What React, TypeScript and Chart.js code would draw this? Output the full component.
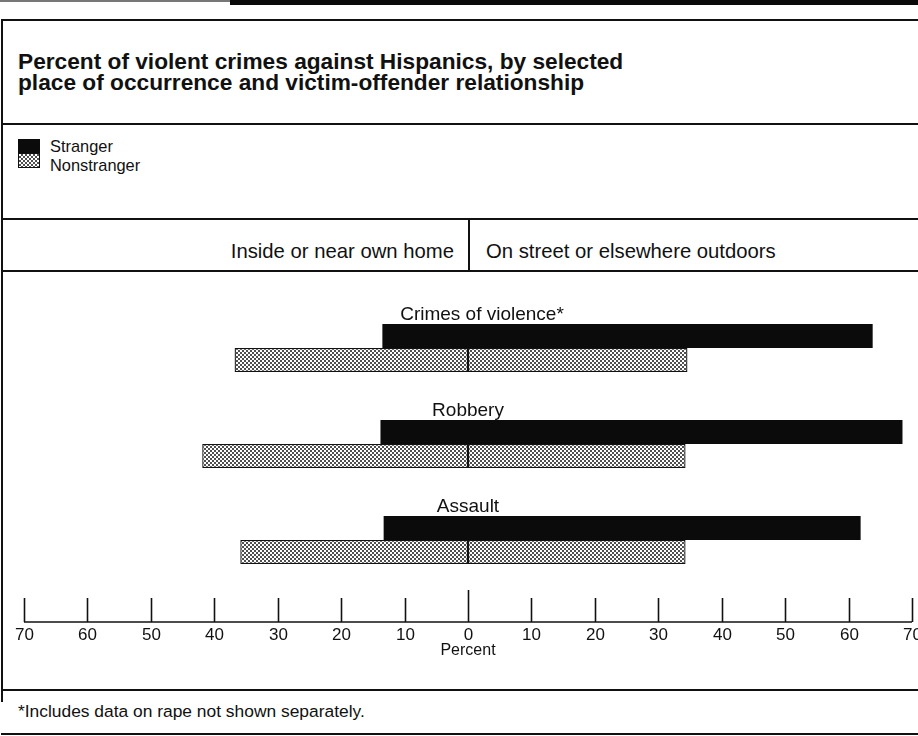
import React, { useEffect, useRef } from "react";
import { Chart, registerables } from "chart.js";

Chart.register(...registerables);

// ---- data ----
const categories = ["Crimes of violence*", "Robbery", "Assault"];
const strangerHome = [13.5, 13.8, 13.3];
const strangerOutdoors = [63.8, 68.5, 61.9];
const nonstrangerHome = [36.8, 41.9, 35.9];
const nonstrangerOutdoors = [34.6, 34.3, 34.3];
const tickValues = [-70, -60, -50, -40, -30, -20, -10, 0, 10, 20, 30, 40, 50, 60, 70];
const seriesNames = ["Stranger", "Nonstranger"];
const sectionLabels = ["Inside or near own home", "On street or elsewhere outdoors"];
const titleLines = [
  "Percent of violent crimes against Hispanics, by selected",
  "place of occurrence and victim-offender relationship",
];
const axisTitle = "Percent";
const footnote = "*Includes data on rape not shown separately.";

const FONT = '"Liberation Sans", Arial, Helvetica, sans-serif';
const INK = "#111";
const DOT = "#505050";

function makePattern(): CanvasPattern | string {
  const tile = document.createElement("canvas");
  tile.width = 4;
  tile.height = 4;
  const c = tile.getContext("2d");
  if (!c) return "#999";
  c.fillStyle = "#fff";
  c.fillRect(0, 0, 4, 4);
  c.fillStyle = DOT;
  c.fillRect(0, 0, 2, 2);
  c.fillRect(2, 2, 2, 2);
  const p = c.createPattern(tile, "repeat");
  return p || "#999";
}

const axisPlugin = {
  id: "customAxis",
  afterDraw(chart: any) {
    const { ctx, chartArea } = chart;
    const xs = chart.scales.x;
    const ys = chart.scales.y;
    ctx.save();
    // category labels above each group
    ctx.fillStyle = INK;
    ctx.font = `19px ${FONT}`;
    ctx.textAlign = "center";
    ctx.textBaseline = "alphabetic";
    const labelShift = [14, 0, 0];
    categories.forEach((c, i) => {
      const y = ys.getPixelForValue(i) - 28;
      ctx.fillText(c, xs.getPixelForValue(0) + labelShift[i], y);
    });
    // baseline and ticks
    const base = chartArea.bottom + 34;
    ctx.strokeStyle = INK;
    ctx.lineWidth = 1.6;
    ctx.beginPath();
    ctx.moveTo(xs.getPixelForValue(tickValues[0]), base);
    ctx.lineTo(xs.getPixelForValue(tickValues[tickValues.length - 1]), base);
    ctx.stroke();
    ctx.font = `17px ${FONT}`;
    ctx.textBaseline = "middle";
    tickValues.forEach((t) => {
      const px = Math.round(xs.getPixelForValue(t)) + 0.5;
      ctx.beginPath();
      ctx.moveTo(px, base);
      ctx.lineTo(px, t === 0 ? base - 32 : base - 24);
      ctx.stroke();
      ctx.fillText(String(Math.abs(t)), px, base + 13);
    });
    ctx.font = `16px ${FONT}`;
    ctx.fillText(axisTitle, xs.getPixelForValue(0), base + 29);
    ctx.restore();
  },
};

function ChartBox() {
  const ref = useRef<HTMLCanvasElement | null>(null);
  useEffect(() => {
    if (!ref.current) return;
    const pattern = makePattern();
    const solid = {
      stack: "s",
      backgroundColor: "#0b0b0b",
      borderWidth: 0,
    };
    const hatched = {
      stack: "n",
      backgroundColor: pattern as any,
      borderColor: INK,
      borderWidth: 1.3,
      borderSkipped: false,
    };
    const chart = new Chart(ref.current, {
      type: "bar",
      data: {
        labels: categories,
        datasets: [
          { label: seriesNames[0], data: strangerHome.map((v) => -v), ...solid },
          { label: seriesNames[0], data: strangerOutdoors, ...solid },
          { label: seriesNames[1], data: nonstrangerHome.map((v) => -v), ...hatched },
          { label: seriesNames[1], data: nonstrangerOutdoors, ...hatched },
        ] as any,
      },
      options: {
        indexAxis: "y",
        responsive: false,
        animation: false,
        events: [],
        layout: { padding: { left: 24, right: 6, top: 28, bottom: 102 } },
        categoryPercentage: 0.5,
        barPercentage: 1.0,
        plugins: { legend: { display: false }, tooltip: { enabled: false }, title: { display: false } },
        scales: {
          x: { type: "linear", min: -70, max: 70, stacked: true, display: false },
          y: { type: "category", stacked: true, display: false },
        },
      } as any,
      plugins: [axisPlugin],
    });
    return () => chart.destroy();
  }, []);
  return (
    <canvas
      ref={ref}
      width={918}
      height={418}
      style={{ position: "absolute", left: 0, top: 272, width: 918, height: 418 }}
    />
  );
}

function Txt(props: { x: number; base: number; size: number; bold?: boolean; align?: "left" | "right"; children: React.ReactNode }) {
  const { x, base, size, bold, align, children } = props;
  const top = base - 0.8465 * size;
  const style: React.CSSProperties = {
    position: "absolute",
    top,
    fontFamily: FONT,
    fontSize: size,
    lineHeight: `${size}px`,
    fontWeight: bold ? 700 : 400,
    color: INK,
    whiteSpace: "nowrap",
  };
  if (align === "right") style.right = 918 - x;
  else style.left = x;
  return <div style={style}>{children}</div>;
}

function HLine(props: { y: number; x1?: number; x2?: number; h?: number }) {
  const { y, x1 = 1, x2 = 918, h = 2 } = props;
  return <div style={{ position: "absolute", left: x1, top: y, width: x2 - x1, height: h, background: INK }} />;
}

export default function App() {
  return (
    <div style={{ position: "fixed", left: 0, top: 0, width: 918, height: 736, background: "#fff", overflow: "hidden" }}>
      {/* scan border at the top */}
      <div style={{ position: "absolute", left: 0, top: 0, width: 230, height: 2, background: "#777" }} />
      <div style={{ position: "absolute", left: 230, top: 0, width: 688, height: 5, background: "#0a0a0a" }} />
      {/* frame */}
      <HLine y={19} />
      <div style={{ position: "absolute", left: 1, top: 19, width: 2, height: 683, background: INK }} />
      <Txt x={18} base={69} size={22.7} bold>{titleLines[0]}</Txt>
      <Txt x={18} base={90} size={22.7} bold>{titleLines[1]}</Txt>
      <HLine y={123} />
      {/* legend */}
      <div style={{ position: "absolute", left: 18, top: 139, width: 22, height: 14, background: "#0b0b0b" }} />
      <div
        style={{
          position: "absolute",
          left: 18,
          top: 153,
          width: 22,
          height: 15,
          boxSizing: "border-box",
          border: `1px solid ${INK}`,
          background: `repeating-conic-gradient(${DOT} 0 25%, #fff 0 50%) 0 0 / 4px 4px`,
        }}
      />
      <Txt x={50} base={152} size={16.4}>{seriesNames[0]}</Txt>
      <Txt x={50} base={171} size={16.4}>{seriesNames[1]}</Txt>
      <HLine y={218} />
      {/* section header */}
      <Txt x={454} base={258} size={20.3} align="right">{sectionLabels[0]}</Txt>
      <div style={{ position: "absolute", left: 468, top: 219, width: 1.5, height: 52, background: INK }} />
      <Txt x={486} base={258} size={20.3}>{sectionLabels[1]}</Txt>
      <HLine y={270} />
      <ChartBox />
      <HLine y={689} />
      <Txt x={18} base={718} size={17.4}>{footnote}</Txt>
      <HLine y={733} />
    </div>
  );
}
